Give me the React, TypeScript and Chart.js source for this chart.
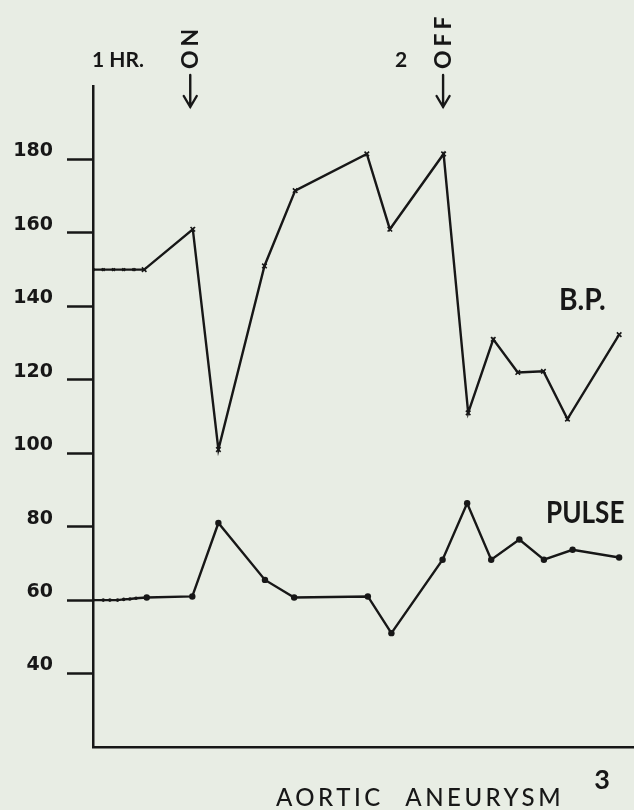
import React, { useEffect, useRef } from 'react';
import { Chart, registerables } from 'chart.js';

Chart.register(...registerables);

// ---- data (minutes after the 1st hour mark) ----
const bpMinutes = [0, 2, 4, 6, 8, 10, 19.5, 24.5, 33.5, 39.5, 53.5, 58, 68.5, 73.3, 78.2, 83, 88, 92.7, 102.8];
const bpValues = [150, 150, 150, 150, 150, 150, 161, 101, 151, 171.5, 181.5, 161, 181.5, 111, 131, 122, 122.3, 109.3, 132.3];

const pulseMinutes = [0, 2, 3.3, 4.8, 6, 7.2, 8.4, 10.5, 19.4, 24.5, 33.6, 39.3, 53.7, 58.3, 68.3, 73.1, 77.8, 83.3, 88.1, 93.7, 102.8];
const pulseValues = [60, 60, 60, 60, 60.2, 60.3, 60.5, 60.7, 61, 81, 65.5, 60.7, 61, 51, 71, 86.4, 71, 76.5, 71, 73.7, 71.6];

const yTickValues = [40, 60, 80, 100, 120, 140, 160, 180];
const hourLabels = ['1 HR.', '2'];
const hourMinutes = [0, 60];
const eventLabels = ['ON', 'OFF'];
const eventMinutes = [19, 68.4];
const seriesLabels = ['B.P.', 'PULSE'];
const figureTitle = 'AORTIC ANEURYSM';
const figureNumber = '3';

const INK = '#171717';
const BG = '#e8ede4';
const FONT = 'Lato, "DejaVu Sans", sans-serif';
const NUM_FONT = '"DejaVu Sans", Lato, sans-serif';

const annotationPlugin = {
  id: 'annotations',
  afterDraw(chart: any) {
    const { ctx, scales } = chart;
    const x = scales.x;
    ctx.save();
    ctx.fillStyle = INK;
    ctx.strokeStyle = INK;
    ctx.textBaseline = 'middle';

    // hour marks above the axis
    ctx.font = `bold 21px ${FONT}`;
    ctx.textAlign = 'left';
    hourLabels.forEach((t, i) => {
      ctx.fillText(t, x.getPixelForValue(hourMinutes[i]) - (i === 0 ? 1 : 5), 60);
    });

    // ON / OFF rotated labels with arrows
    eventLabels.forEach((t, i) => {
      const px = x.getPixelForValue(eventMinutes[i]);
      ctx.save();
      ctx.translate(px, 69);
      ctx.rotate(-Math.PI / 2);
      ctx.textAlign = 'left';
      ctx.font = `bold 23px ${FONT}`;
      (ctx as any).letterSpacing = '4px';
      ctx.fillText(t, 0, 0);
      ctx.restore();
      ctx.lineWidth = 2.4;
      ctx.lineCap = 'round';
      ctx.beginPath();
      ctx.moveTo(px, 75);
      ctx.lineTo(px, 107);
      ctx.moveTo(px - 6.5, 96);
      ctx.lineTo(px, 107);
      ctx.lineTo(px + 6.5, 96);
      ctx.stroke();
    });

    // series labels
    const seriesPos = [
      [559, 300],
      [546, 513],
    ];
    const seriesScale = [0.94, 0.87];
    seriesLabels.forEach((t, i) => {
      ctx.save();
      ctx.translate(seriesPos[i][0], seriesPos[i][1]);
      ctx.scale(seriesScale[i], 1);
      ctx.textAlign = 'left';
      ctx.font = `bold 30px ${FONT}`;
      ctx.fillText(t, 0, 0);
      ctx.restore();
    });

    // figure caption
    ctx.save();
    ctx.font = `500 24px ${FONT}`;
    (ctx as any).letterSpacing = '3.5px';
    (ctx as any).wordSpacing = '12px';
    ctx.textAlign = 'center';
    ctx.fillText(figureTitle, 420, 798);
    ctx.restore();

    ctx.font = `bold 27px ${FONT}`;
    ctx.textAlign = 'center';
    ctx.fillText(figureNumber, 602, 780);
    ctx.restore();
  },
};

export default function App() {
  const canvasRef = useRef<HTMLCanvasElement | null>(null);

  useEffect(() => {
    if (!canvasRef.current) return;
    const chart = new Chart(canvasRef.current, {
      type: 'line',
      data: {
        datasets: [
          {
            label: 'B.P.',
            data: bpMinutes.map((m, i) => ({ x: m, y: bpValues[i] })),
            borderColor: INK,
            backgroundColor: INK,
            borderWidth: 2.4,
            pointStyle: 'crossRot',
            pointRadius: (c: any) => (c.dataIndex < 5 ? 2 : 3.2),
            pointBorderWidth: 1.6,
            tension: 0,
          },
          {
            label: 'PULSE',
            data: pulseMinutes.map((m, i) => ({ x: m, y: pulseValues[i] })),
            borderColor: INK,
            backgroundColor: INK,
            borderWidth: 2.4,
            pointStyle: 'circle',
            pointRadius: (c: any) => (c.dataIndex < 7 ? 1.8 : 3.2),
            pointBorderWidth: 0,
            tension: 0,
          },
        ],
      },
      options: {
        animation: false,
        responsive: false,
        devicePixelRatio: 1,
        layout: { autoPadding: false, padding: { top: 86, right: 0, left: 0, bottom: 0 } },
        plugins: {
          legend: { display: false },
          tooltip: { enabled: false },
          title: { display: false },
        },
        scales: {
          x: {
            type: 'linear',
            min: 0,
            max: 105.7,
            grid: { display: false },
            ticks: { display: false },
            border: { display: true, color: INK, width: 2.5 },
            afterFit: (s: any) => {
              s.height = 63;
            },
          },
          y: {
            type: 'linear',
            min: 20,
            max: 200,
            afterBuildTicks: (s: any) => {
              s.ticks = yTickValues.map((v) => ({ value: v }));
            },
            afterFit: (s: any) => {
              s.width = 93;
            },
            grid: {
              display: true,
              drawOnChartArea: false,
              drawTicks: true,
              tickLength: 26,
              tickWidth: 2.5,
              tickColor: INK,
            },
            border: { display: true, color: INK, width: 2.5 },
            ticks: {
              color: INK,
              font: { family: NUM_FONT, size: 19, weight: 'bold' },
              padding: 14,
              labelOffset: -8,
            },
          },
        },
      },
      plugins: [annotationPlugin],
    } as any);
    return () => chart.destroy();
  }, []);

  return (
    <div
      style={{
        position: 'fixed',
        left: 0,
        top: 0,
        width: 634,
        height: 810,
        background: BG,
      }}
    >
      <canvas ref={canvasRef} width={634} height={810} style={{ display: 'block' }} />
    </div>
  );
}
